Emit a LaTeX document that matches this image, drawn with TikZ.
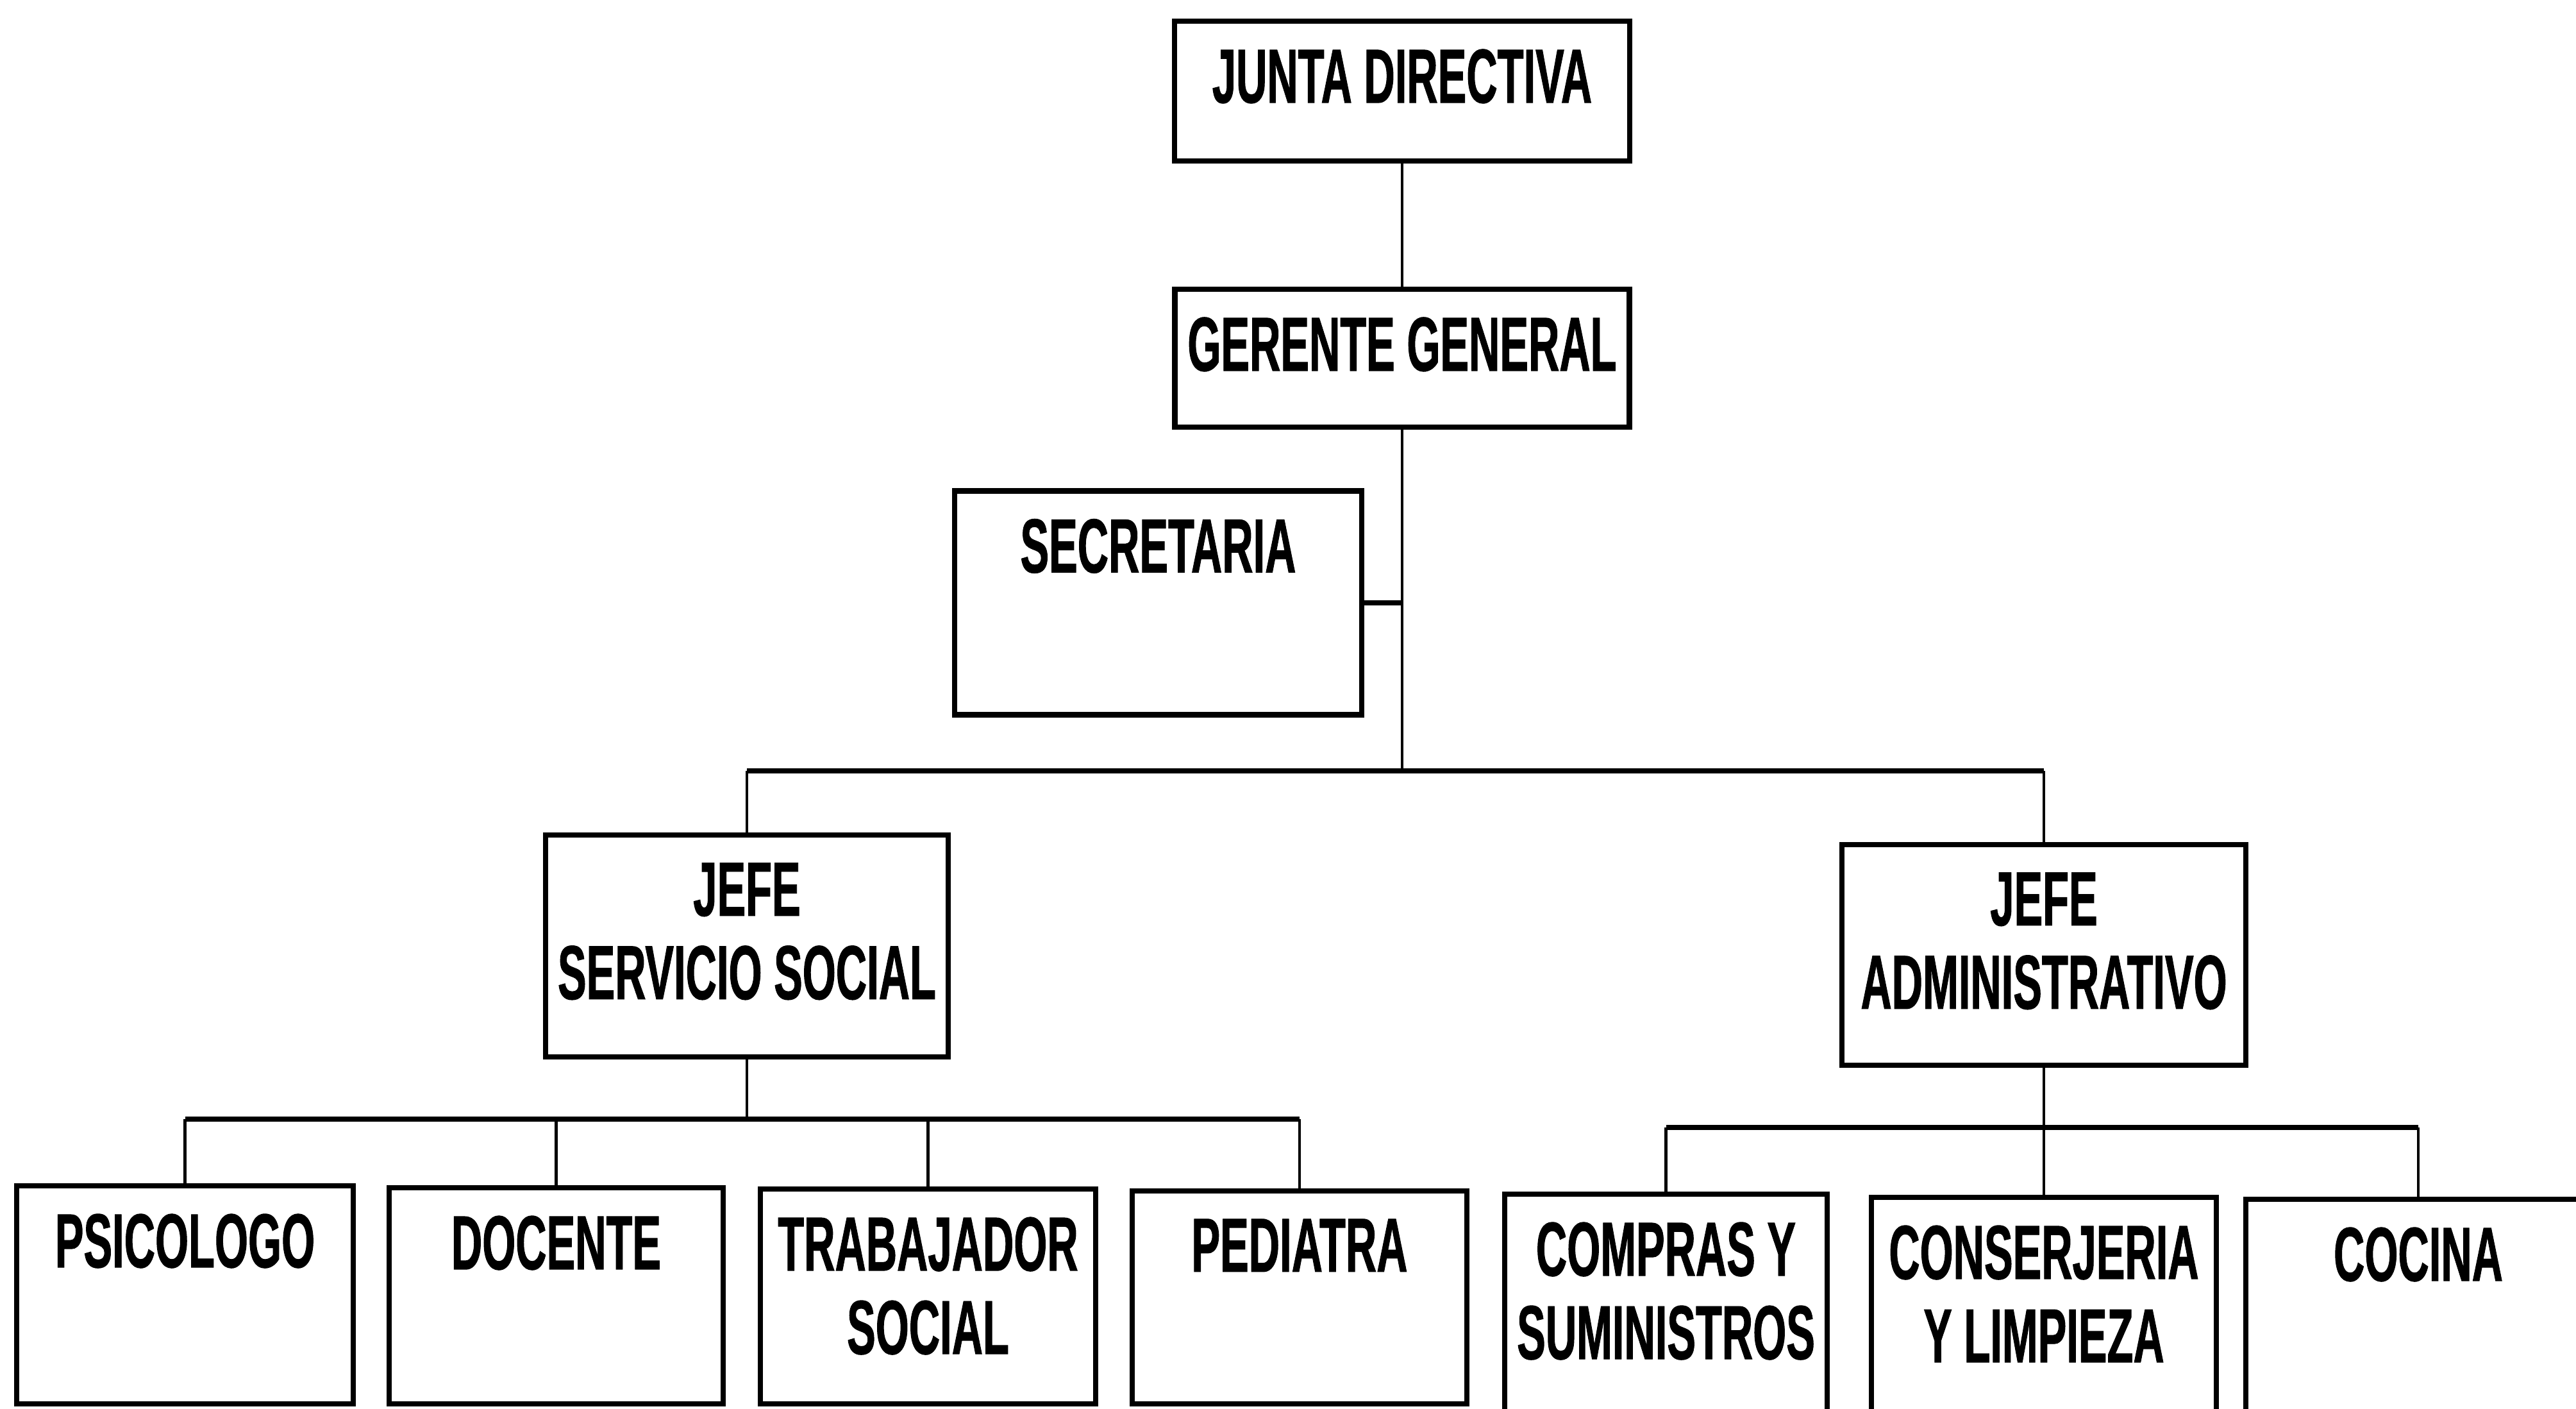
\documentclass[tikz,border=0pt]{standalone}
\usepackage{fontspec}
\setmainfont{Liberation Sans}[FakeStretch=0.56, FakeBold=0.8]

\begin{document}
\begin{tikzpicture}[cargo/.style={line width=2.3pt, inner sep=0pt},
	titulo/.style={anchor=north, yshift=-0.47cm, inner sep=0pt, align=center,
		font=\fontsize{34}{37}\selectfont\bfseries},
	hbar/.style={line width=2.5pt},
	vline/.style={line width=1.2pt}]
\useasboundingbox (0,0) rectangle (40.18,-21.96);
	\node[cargo, minimum width=7.1cm, minimum height=2.18cm] (junta) at (21.87,-1.42) [draw]
		[label={[titulo]north:JUNTA DIRECTIVA}] {};
	\node[cargo, minimum width=7.09cm, minimum height=2.15cm] (gerente) at (21.87,-5.585) [draw]
		[label={[titulo]north:GERENTE GENERAL}] {};
	\node[cargo, minimum width=6.35cm, minimum height=3.49cm] (secretaria) at (18.065,-9.4) [draw]
		[label={[titulo]north:SECRETARIA}] {};
	\node[cargo, minimum width=6.28cm, minimum height=3.46cm] (jefess) at (11.65,-14.75) [draw]
		[label={[titulo]north:JEFE\\SERVICIO SOCIAL}] {};
	\node[cargo, minimum width=6.3cm, minimum height=3.44cm] (jefeadm) at (31.88,-14.89) [draw]
		[label={[titulo]north:JEFE\\ADMINISTRATIVO}] {};
	\node[cargo, anchor=north, minimum width=5.25cm, minimum height=3.4cm] (psicologo) at (2.885,-18.45) [draw]
		[label={[titulo]north:PSICOLOGO}] {};
	\node[cargo, anchor=north, minimum width=5.21cm, minimum height=3.37cm] (docente) at (8.675,-18.48) [draw]
		[label={[titulo]north:DOCENTE}] {};
	\node[cargo, anchor=north, minimum width=5.23cm, minimum height=3.35cm] (trabajador) at (14.475,-18.5) [draw]
		[label={[titulo]north:TRABAJADOR\\SOCIAL}] {};
	\node[cargo, anchor=north, minimum width=5.22cm, minimum height=3.32cm] (pediatra) at (20.27,-18.53) [draw]
		[label={[titulo]north:PEDIATRA}] {};
	\node[cargo, anchor=north, minimum width=5.03cm, minimum height=3.8cm] (compras) at (25.985,-18.58) [draw]
		[label={[titulo]north:COMPRAS Y\\SUMINISTROS}] {};
	\node[cargo, anchor=north, minimum width=5.38cm, minimum height=3.8cm] (conserjeria) at (31.88,-18.63) [draw]
		[label={[titulo]north:CONSERJERIA\\Y LIMPIEZA}] {};
	\node[cargo, anchor=north, minimum width=5.38cm, minimum height=3.8cm] (cocina) at (37.72,-18.66) [draw]
		[label={[titulo]north:COCINA}] {};
	\coordinate (ramal) at (21.87,-12.02);
	\coordinate (nodoss) at (11.65,-17.45);
	\coordinate (nodoadm) at (31.88,-17.58);
	\draw[vline] (junta) -- (gerente);
	\draw[vline] (gerente) -- (ramal);
	\draw[hbar] (secretaria.east) -- (secretaria.east -| ramal);
	\draw[hbar] (jefess |- ramal) -- (jefeadm |- ramal);
	\draw[vline] (jefess |- ramal) -- (jefess);
	\draw[vline] (jefeadm |- ramal) -- (jefeadm);
	\draw[vline] (jefess) -- (nodoss);
	\draw[hbar] (psicologo |- nodoss) -- (pediatra |- nodoss);
	\foreach \n in {psicologo,docente,trabajador,pediatra}
		\draw[vline] (\n |- nodoss) -- (\n);
	\draw[vline] (jefeadm) -- (nodoadm);
	\draw[hbar] (compras |- nodoadm) -- (cocina |- nodoadm);
	\foreach \n in {compras,conserjeria,cocina}
		\draw[vline] (\n |- nodoadm) -- (\n);
\end{tikzpicture}
\end{document}
